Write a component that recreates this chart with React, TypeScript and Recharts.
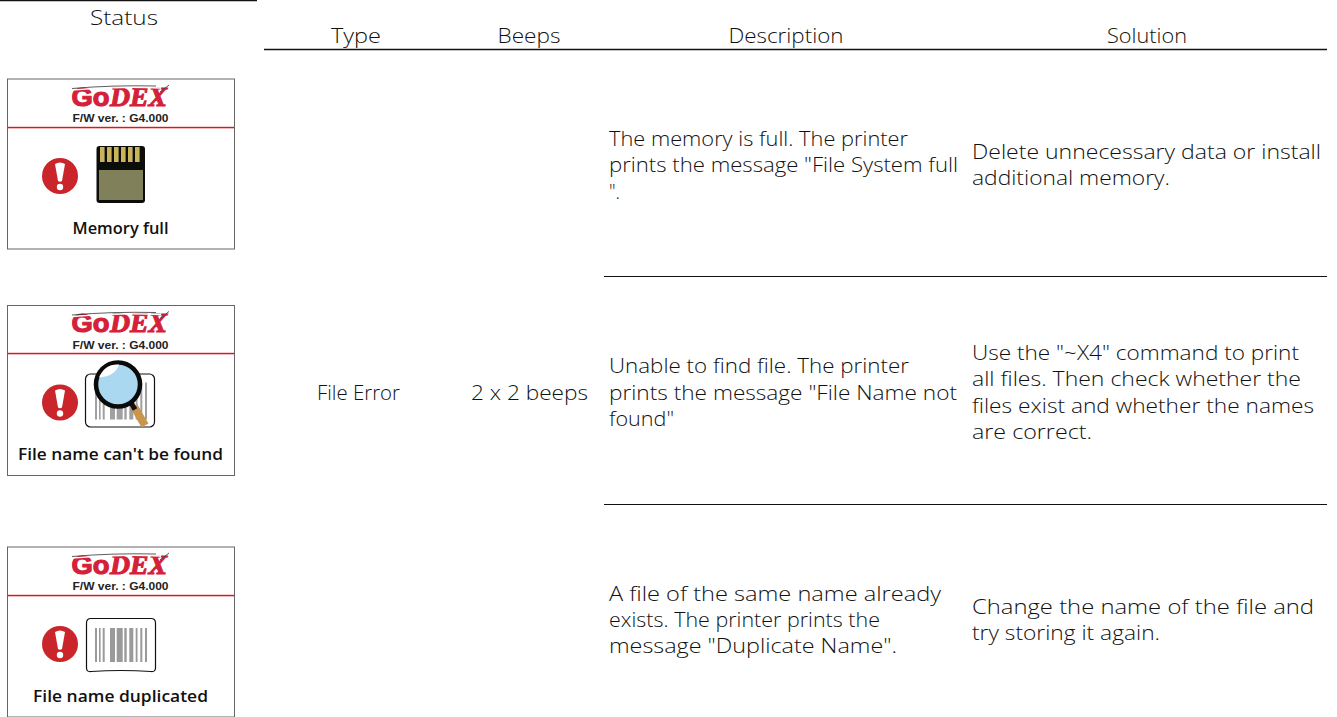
import React from "react";
import { ScatterChart, Scatter, XAxis, YAxis, ReferenceLine } from "recharts";

// every label is one point: x, y of its anchor in the sheet's own units
const headers = [
  { x: 124, y: 18, text: "Status" },
  { x: 356, y: 36, text: "Type" },
  { x: 529, y: 36, text: "Beeps" },
  { x: 786, y: 36, text: "Description" },
  { x: 1147, y: 36, text: "Solution" },
];
const cells = [
  { x: 317, y: 393, text: "File Error" },
  { x: 471, y: 393, text: "2 x 2 beeps" },
];
const descriptions = [
  { x: 609, y: 139, text: "The memory is full. The printer" },
  { x: 609, y: 165, text: "prints the message \"File System full" },
  { x: 609, y: 192, text: "\"." },
  { x: 609, y: 366, text: "Unable to find file. The printer" },
  { x: 609, y: 393, text: "prints the message \"File Name not" },
  { x: 609, y: 419, text: "found\"" },
  { x: 609, y: 594, text: "A file of the same name already" },
  { x: 609, y: 620, text: "exists. The printer prints the" },
  { x: 609, y: 646, text: "message \"Duplicate Name\"." },
];
const solutions = [
  { x: 972, y: 152, text: "Delete unnecessary data or install" },
  { x: 972, y: 178, text: "additional memory." },
  { x: 972, y: 353, text: "Use the \"~X4\" command to print" },
  { x: 972, y: 379, text: "all files. Then check whether the" },
  { x: 972, y: 406, text: "files exist and whether the names" },
  { x: 972, y: 432, text: "are correct." },
  { x: 972, y: 607, text: "Change the name of the file and" },
  { x: 972, y: 633, text: "try storing it again." },
];
const cardTops = [79, 305.5, 547];
const cardTitles = ["Memory full", "File name can't be found", "File name duplicated"];
const ruleTops = [276.5, 504.5];

// the original face is wider than anything installed, so lines get stretched to measured widths
const lineWidths: Record<string, number> = {
  "Status": 68, "Type": 50, "Beeps": 63, "Description": 115, "Solution": 80,
  "File Error": 83, "2 x 2 beeps": 117,
  "The memory is full. The printer": 299,
  "prints the message \"File System full": 349,
  "\".": 11,
  "Unable to find file. The printer": 300,
  "prints the message \"File Name not": 348,
  "found\"": 65,
  "A file of the same name already": 332,
  "exists. The printer prints the": 271,
  "message \"Duplicate Name\".": 288,
  "Delete unnecessary data or install": 349,
  "additional memory.": 198,
  "Use the \"~X4\" command to print": 327,
  "all files. Then check whether the": 329,
  "files exist and whether the names": 342,
  "are correct.": 120,
  "Change the name of the file and": 342,
  "try storing it again.": 188,
  "Memory full": 96,
  "File name can't be found": 205,
  "File name duplicated": 175,
};

const FONT = "'Open Sans', 'DejaVu Sans', sans-serif";
const ARIAL = "'Liberation Sans', sans-serif";
const RED = "#c9252b";
const LOGO_RED = "#d5203a";
const BARS = [[0, 2], [4, 1.6], [7.7, 2], [15, 5], [21.7, 6], [29.3, 2.4], [34.3, 4], [40.7, 1.8], [45.3, 2], [50, 2]];

const TextLabel = ({ cx, cy, payload, anchor, size }: any) => (
  <text
    x={cx}
    y={cy - 1}
    textAnchor={anchor}
    dominantBaseline="central"
    fontFamily={FONT}
    fontWeight={300}
    fontSize={size}
    fill="#111"
    textLength={lineWidths[payload.text]}
    lengthAdjust="spacingAndGlyphs"
  >
    {payload.text}
  </text>
);

const Logo = ({ x, y }: { x: number; y: number }) => (
  <g>
    <text x={x + 64.5} y={y + 26.5} fontFamily={ARIAL} fontWeight={700} fontSize={25} fill={LOGO_RED} stroke={LOGO_RED} strokeWidth={1.1} textLength={38} lengthAdjust="spacingAndGlyphs">Go</text>
    <text x={x + 103} y={y + 26.5} fontFamily="'Liberation Serif', serif" fontWeight={700} fontStyle="italic" fontSize={27} fill={LOGO_RED} stroke={LOGO_RED} strokeWidth={1.1} textLength={57} lengthAdjust="spacingAndGlyphs">DEX</text>
    <path d={`M${x + 64} ${y + 11} q45 -4 90 -2`} stroke="#fff" strokeWidth={1.4} fill="none" />
    <path d={`M${x + 65} ${y + 9.5} q40 -3.5 84 -2.5`} stroke="#333" strokeWidth={0.8} fill="none" />
    <path d={`M${x + 153} ${y + 13} l9 -7`} stroke="#444" strokeWidth={0.9} fill="none" />
    <text x={x + 113.5} y={y + 43} textAnchor="middle" fontFamily={ARIAL} fontWeight={700} fontSize={10.5} fill="#222" textLength={96} lengthAdjust="spacingAndGlyphs">F/W ver. : G4.000</text>
  </g>
);

const Alert = ({ x, y }: { x: number; y: number }) => (
  <g>
    <circle cx={x} cy={y} r={18} fill={RED} />
    <path d={`M${x - 5} ${y - 12} q5 -3 10 0 l-3 17 q-2 1.5 -4 0 z`} fill="#fff" />
    <circle cx={x} cy={y + 11} r={3.2} fill="#fff" />
  </g>
);

const CardArt = ({ index, x, y }: { index: number; x: number; y: number }) => {
  if (index === 0) {
    return (
      <g>
        <rect x={x + 89.5} y={y + 67} width={48.5} height={57} rx={3} fill="#0c0c08" />
        <rect x={x + 92} y={y + 91} width={44} height={30} fill="#80805a" />
        {[0, 1, 2, 3, 4, 5].map((i) => (
          <rect key={i} x={x + 93 + i * 7} y={y + 68} width={4.6} height={15} fill="#c9b45c" />
        ))}
      </g>
    );
  }
  if (index === 1) {
    return (
      <g>
        <rect x={x + 78.5} y={y + 68.5} width={69} height={53} rx={5} fill="#fff" stroke="#111" strokeWidth={1.2} />
        {BARS.map(([b, w]) => <rect key={b} x={x + 88 + b} y={y + 77} width={w} height={37} fill="#a0a0a0" />)}
        <path d={`M${x + 127} ${y + 101} l11 19`} stroke="#c8964e" strokeWidth={8} />
        <path d={`M${x + 124} ${y + 97} l4 7`} stroke="#111" strokeWidth={5} />
        <circle cx={x + 111} cy={y + 79} r={22} fill="#a9d8f0" stroke="#0a0a0a" strokeWidth={4.5} />
        <path d={`M${x + 92} ${y + 72} q6 -14 20 -13 q-4 12 -20 13 z`} fill="#fff" />
      </g>
    );
  }
  return (
    <g>
      <path d={`M${x + 84} ${y + 71.5} h60 q4.5 0 4.5 4.5 v45 q0 4 -4.5 3.5 q-30 -2 -60 0 q-4.5 0.5 -4.5 -3.5 v-45 q0 -4.5 4.5 -4.5 z`} fill="#fff" stroke="#111" strokeWidth={1.2} />
      {BARS.map(([b, w]) => <rect key={b} x={x + 88 + b} y={y + 81} width={w} height={34} fill="#9a9a9a" />)}
    </g>
  );
};

// status panel: placed from the card's point
const StatusCard = ({ cx, cy, payload }: any) => {
  const x = cx;
  const y = cy;
  return (
    <g>
      <rect x={x + 0.5} y={y} width={227} height={170} fill="#fff" stroke="#666" />
      <rect x={x + 1} y={Math.floor(y + 48) - 0.2} width={226} height={1.5} fill="#e0141f" />
      <Logo x={x} y={y} />
      <Alert x={x + 53} y={y + 97} />
      <CardArt index={payload.index} x={x} y={y} />
      <text
        x={x + 113.5}
        y={y + 148.5}
        textAnchor="middle"
        dominantBaseline="central"
        fontFamily={FONT}
        fontWeight={600}
        fontSize={15.5}
        fill="#111"
        textLength={lineWidths[payload.title]}
        lengthAdjust="spacingAndGlyphs"
      >
        {payload.title}
      </text>
    </g>
  );
};

const cards = cardTops.map((y, index) => ({ x: 7, y, index, title: cardTitles[index] }));

export default function App() {
  return (
    <>
      <style>{"body{margin:0;background:#fff}"}</style>
      <ScatterChart width={1337} height={717} margin={{ top: 0, right: 0, bottom: 0, left: 0 }}>
        <XAxis type="number" dataKey="x" domain={[0, 1337]} hide />
        <YAxis type="number" dataKey="y" domain={[0, 717]} reversed hide />
        <ReferenceLine segment={[{ x: 0, y: 0.5 }, { x: 257, y: 0.5 }]} stroke="#111" strokeWidth={1.4} />
        <ReferenceLine segment={[{ x: 264, y: 49.5 }, { x: 1327, y: 49.5 }]} stroke="#111" strokeWidth={1.4} />
        {ruleTops.map((y) => (
          <ReferenceLine key={y} segment={[{ x: 604, y }, { x: 1327, y }]} stroke="#111" strokeWidth={1.2} />
        ))}
        <Scatter data={cards} isAnimationActive={false} shape={<StatusCard />} />
        <Scatter data={headers} isAnimationActive={false} shape={<TextLabel anchor="middle" size={21} />} />
        <Scatter data={cells} isAnimationActive={false} shape={<TextLabel anchor="start" size={21} />} />
        <Scatter data={descriptions} isAnimationActive={false} shape={<TextLabel anchor="start" size={21} />} />
        <Scatter data={solutions} isAnimationActive={false} shape={<TextLabel anchor="start" size={21} />} />
      </ScatterChart>
    </>
  );
}
